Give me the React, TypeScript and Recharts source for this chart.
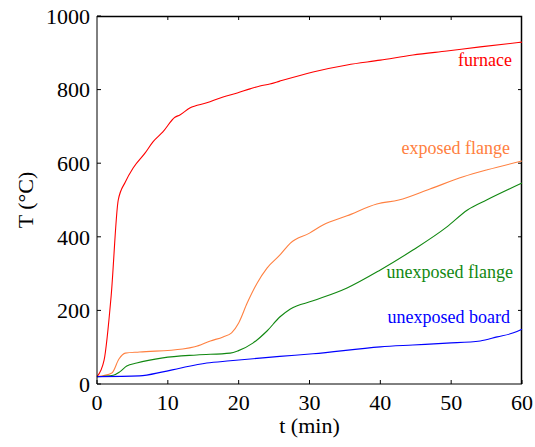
import { LineChart, Line, XAxis, YAxis, ReferenceLine } from 'recharts';

// time (min) and temperature (°C) for each measured curve
const furnaceTime = [0, 1, 2, 3, 4, 5.1, 6.8, 7.9, 9.3, 11, 11.7, 13.1, 15.5, 17.8, 19.8, 21.6, 23, 24.4, 25.8, 30.5, 35.3, 40, 44.6, 49.4, 54.1, 60];
const furnaceTemp = [20, 65, 240, 500, 549, 587, 628, 658, 685, 725, 731, 750, 764, 780, 791, 802, 810, 815, 823, 848, 867, 880, 894, 905, 916, 929];

const exposedFlangeTime = [0, 2.1, 3.1, 4, 6, 12.1, 13.8, 16, 17.8, 19, 20, 21.2, 22.6, 24, 25.8, 27.3, 30, 31.9, 35.3, 39.5, 42.6, 47, 51.7, 55.1, 60];
const exposedFlangeTemp = [20, 30, 68, 84, 87, 95, 101, 117, 128, 139, 166, 220, 274, 315, 350, 383, 410, 432, 457, 489, 500, 530, 563, 582, 606];

const unexposedFlangeTime = [0, 2.3, 3.2, 4.2, 5.6, 9.3, 14.1, 18.8, 19.9, 22, 24, 25.8, 27.3, 30.5, 35.3, 40, 44.6, 49.4, 52.3, 55, 60];
const unexposedFlangeTemp = [20, 24, 33, 49, 57, 71, 79, 84, 90, 111, 144, 182, 204, 226, 261, 310, 364, 427, 473, 500, 546];

const unexposedBoardTime = [0, 6, 9.3, 11.7, 15.5, 18.8, 23.4, 25.8, 30.5, 40, 44.6, 49.4, 54.1, 56.5, 58.8, 60];
const unexposedBoardTemp = [20, 22, 33, 43, 57, 63, 71, 75, 82, 101, 106, 111, 117, 128, 139, 149];

const xTicks = [0, 10, 20, 30, 40, 50, 60];
const yTicks = [0, 200, 400, 600, 800, 1000];

const toRows = (time: number[], temp: number[]) => time.map((t, i) => ({ t, T: temp[i] }));

const series = [
  { name: 'furnace', color: '#ff0000', rows: toRows(furnaceTime, furnaceTemp), labelX: 512, labelY: 66 },
  { name: 'exposed flange', color: '#ff8040', rows: toRows(exposedFlangeTime, exposedFlangeTemp), labelX: 510, labelY: 154 },
  { name: 'unexposed flange', color: '#118811', rows: toRows(unexposedFlangeTime, unexposedFlangeTemp), labelX: 513, labelY: 278 },
  { name: 'unexposed board', color: '#0000ff', rows: toRows(unexposedBoardTime, unexposedBoardTemp), labelX: 510, labelY: 323 },
];

const font = '"Liberation Serif", "Times New Roman", serif';
const tickStyle = { fontSize: 22, fill: '#000', fontFamily: font };
const TICK = 4;

// plot box (matches the chart margins + axis sizes below)
const PLOT = { left: 97, top: 16, width: 425, height: 368 };

// inward tick on the top edge, drawn from a vertical reference line
const TopTick = (p: any) => {
  const y = Math.min(p.y1, p.y2);
  return <line x1={p.x1} y1={y} x2={p.x1} y2={y + TICK} stroke="#000" strokeWidth={1} />;
};
// inward tick on the right edge, drawn from a horizontal reference line
const RightTick = (p: any) => {
  const x = Math.max(p.x1, p.x2);
  return <line x1={x} y1={p.y1} x2={x - TICK} y2={p.y1} stroke="#000" strokeWidth={1} />;
};

export default function App() {
  return (
    <div style={{ position: 'absolute', left: 0, top: 0, width: 535, height: 447, background: '#fff' }}>
      <LineChart width={535} height={447} margin={{ top: 16, right: 13, left: 0, bottom: 0 }}>
        <XAxis
          dataKey="t"
          type="number"
          domain={[0, 60]}
          ticks={xTicks}
          height={63}
          tickSize={-TICK}
          tickMargin={14}
          tick={tickStyle}
          stroke="#000"
          tickLine={{ stroke: '#000' }}
          axisLine={{ stroke: '#000' }}
          label={{ value: 't (min)', position: 'insideBottom', offset: 14, style: { fontSize: 22, fill: '#000', fontFamily: font } }}
        />
        <YAxis
          type="number"
          domain={[0, 1000]}
          ticks={yTicks}
          width={97}
          tickSize={-TICK}
          tickMargin={11}
          tick={tickStyle}
          stroke="#000"
          tickLine={{ stroke: '#000' }}
          axisLine={{ stroke: '#000' }}
          label={{ value: 'T (°C)', angle: -90, position: 'insideLeft', offset: 25, style: { fontSize: 22, fill: '#000', fontFamily: font, textAnchor: 'middle' } }}
        />
        {xTicks.slice(1, -1).map((t) => (
          <ReferenceLine key={`tt-${t}`} x={t} stroke="#000" shape={TopTick} ifOverflow="visible" />
        ))}
        {yTicks.slice(1, -1).map((v) => (
          <ReferenceLine key={`rt-${v}`} y={v} stroke="#000" shape={RightTick} ifOverflow="visible" />
        ))}
        {series.map((s) => (
          <Line
            key={s.name}
            data={s.rows}
            dataKey="T"
            type="monotone"
            stroke={s.color}
            strokeWidth={1.1}
            dot={false}
            isAnimationActive={false}
          />
        ))}
        {series.map((s) => (
          <text
            key={`label-${s.name}`}
            x={s.labelX}
            y={s.labelY}
            textAnchor="end"
            fill={s.color}
            fontSize={18}
            fontFamily={font}
          >
            {s.name}
          </text>
        ))}
        {/* top and right sides of the closed frame */}
        <polyline
          points={`${PLOT.left},${PLOT.top + 0.5} ${PLOT.left + PLOT.width - 0.5},${PLOT.top + 0.5} ${PLOT.left + PLOT.width - 0.5},${PLOT.top + PLOT.height}`}
          fill="none"
          stroke="#000"
          strokeWidth={1.5}
        />
      </LineChart>
    </div>
  );
}
